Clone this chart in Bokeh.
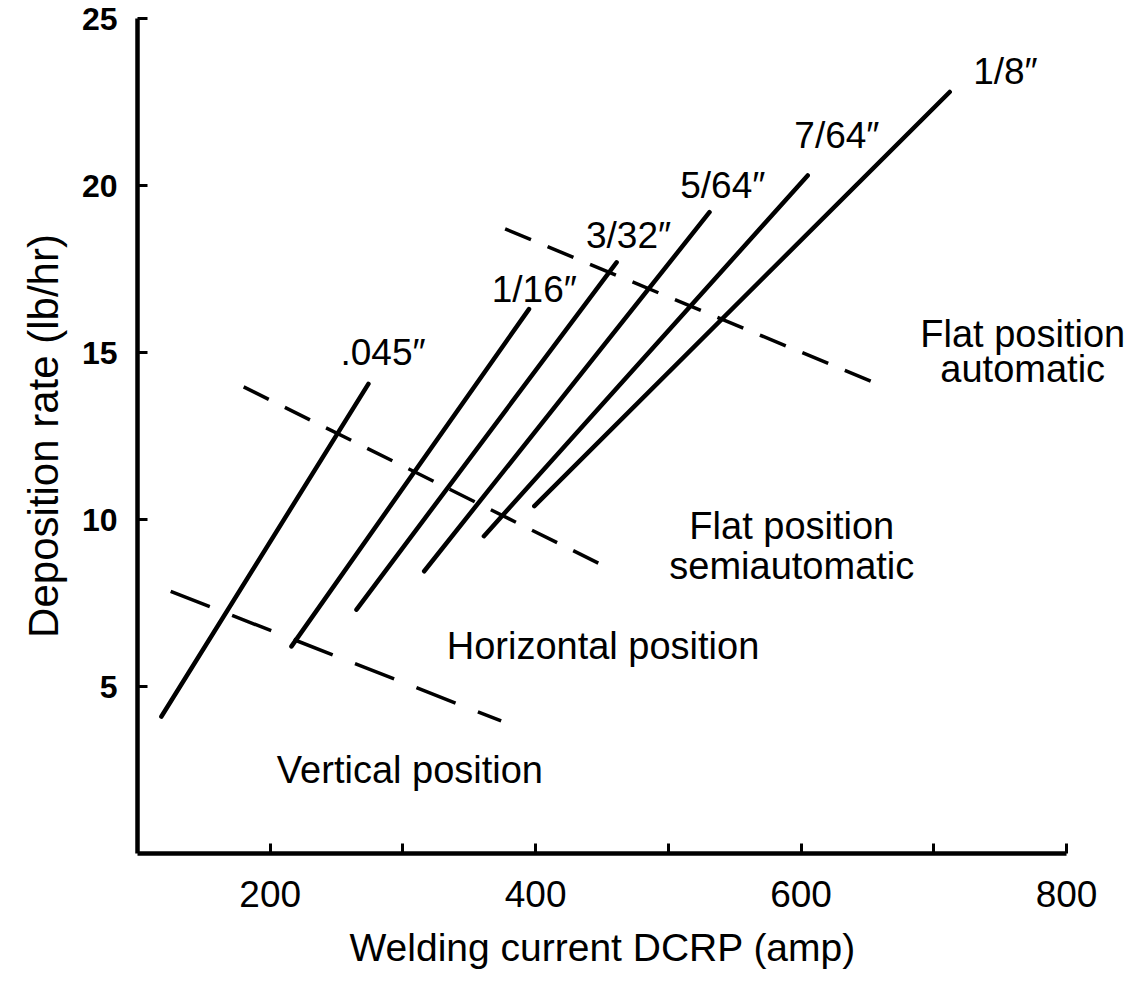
from bokeh.plotting import figure
from bokeh.models import Range1d, FixedTicker, ColumnDataSource, Title
from bokeh.core.properties import value
from bokeh.embed import file_html
from bokeh.resources import INLINE

# ---- data ----
wire_labels = [".045\u2033", "1/16\u2033", "3/32\u2033", "5/64\u2033", "7/64\u2033", "1/8\u2033"]
wire_x0 = [118, 216, 265, 316, 361, 399]
wire_y0 = [4.1, 6.2, 7.3, 8.45, 9.5, 10.4]
wire_x1 = [274, 395, 461, 531, 605, 712]
wire_y1 = [14.06, 16.3, 17.7, 19.2, 20.3, 22.8]
label_x = [285, 399, 470, 541, 627, 754]
label_y = [15.0, 16.9, 18.5, 20.0, 21.5, 23.4]

# position boundaries (dashed)
bound_x0 = [125, 180, 377]
bound_y0 = [7.85, 13.97, 18.7]
bound_x1 = [374, 457, 661]
bound_y1 = [3.97, 8.5, 14.0]

region_text = ["Vertical position", "Horizontal position", "Flat position", "semiautomatic",
               "Flat position", "automatic"]
region_x = [205, 333, 593, 593, 767, 767]
region_y = [2.5, 6.2, 9.8, 8.6, 15.55, 14.5]
region_align = ["left", "left", "center", "center", "center", "center"]

x_ticks = [200, 400, 600, 800]
x_minor = [300, 500, 700]
y_ticks = [5, 10, 15, 20, 25]
x_title = "Welding current DCRP (amp)"
y_title = "Deposition rate (lb/hr)"

FONT = "Liberation Sans"
W, H = 1127, 982
LEFT = 137          # frame left (fig px)  -> x = 100
TOP = 18            # frame top (fig px)   -> y = 25
BOTTOM = 853        # frame bottom (fig px) -> y = 0
PX_PER_AMP = 929.0 / 700.0
XMAX = 100 + (W - LEFT) / PX_PER_AMP

p = figure(width=W, height=H, output_backend="svg", toolbar_location=None,
           x_range=Range1d(100, XMAX), y_range=Range1d(0, 25),
           min_border_left=LEFT, min_border_right=0,
           min_border_top=TOP, min_border_bottom=H - BOTTOM)
p.grid.visible = False
p.outline_line_color = None
p.background_fill_color = "white"
p.border_fill_color = "white"

# axes
for ax in (p.xaxis[0], p.yaxis[0]):
    ax.axis_line_width = 4.5
    ax.axis_line_color = "black"
    ax.major_tick_in = 10
    ax.major_tick_out = 0
    ax.minor_tick_in = 10
    ax.minor_tick_out = 0
    ax.major_tick_line_width = 3
    ax.minor_tick_line_width = 3
    ax.major_tick_line_color = "black"
    ax.minor_tick_line_color = "black"
    ax.major_label_text_color = "black"
    ax.axis_label_text_color = "black"
    ax.axis_label_text_font = FONT
    ax.major_label_text_font = FONT
    ax.axis_label_text_font_style = "normal"

p.xaxis.bounds = (100, 800)
p.xaxis.ticker = FixedTicker(ticks=x_ticks, minor_ticks=x_minor)
p.yaxis.ticker = FixedTicker(ticks=y_ticks, minor_ticks=[])
p.xaxis.major_label_text_font_size = "37px"
p.yaxis.major_label_text_font_size = "32px"
p.yaxis.major_label_text_font_style = "bold"
p.xaxis.major_label_standoff = 27
p.yaxis.major_label_standoff = 20
p.yaxis.axis_label = y_title
p.yaxis.axis_label_text_font_size = "42px"
p.yaxis.axis_label_standoff = 12

# x-axis title, centred under the 100..800 axis line (frame extends further right)
p.add_layout(Title(text=x_title, align="left", offset=212, standoff=28,
                   text_font=FONT, text_font_size="39px", text_font_style="normal",
                   text_color="black"), "below")

# wire-size lines
wsrc = ColumnDataSource(dict(x0=wire_x0, y0=wire_y0, x1=wire_x1, y1=wire_y1))
p.segment(x0="x0", y0="y0", x1="x1", y1="y1", source=wsrc,
          line_width=4.5, line_color="black", line_cap="round")

# dashed boundaries
lower = ColumnDataSource(dict(x0=bound_x0[:1], y0=bound_y0[:1], x1=bound_x1[:1], y1=bound_y1[:1]))
upper = ColumnDataSource(dict(x0=bound_x0[1:], y0=bound_y0[1:], x1=bound_x1[1:], y1=bound_y1[1:]))
p.segment(x0="x0", y0="y0", x1="x1", y1="y1", source=lower,
          line_width=3.5, line_color="black", line_dash="42 24")
p.segment(x0="x0", y0="y0", x1="x1", y1="y1", source=upper,
          line_width=3.5, line_color="black", line_dash="28 18")

# wire labels
lsrc = ColumnDataSource(dict(x=label_x, y=label_y, t=wire_labels))
p.text(x="x", y="y", text="t", source=lsrc, text_font=value(FONT),
       text_font_size="37px", text_align="center", text_baseline="middle",
       text_color="black")

# region labels
rsrc = ColumnDataSource(dict(x=region_x, y=region_y, t=region_text, a=region_align))
p.text(x="x", y="y", text="t", source=rsrc, text_font=value(FONT),
       text_font_size="38px", text_align="a", text_baseline="middle",
       text_color="black")

open("out.html", "w").write(file_html(p, INLINE))
